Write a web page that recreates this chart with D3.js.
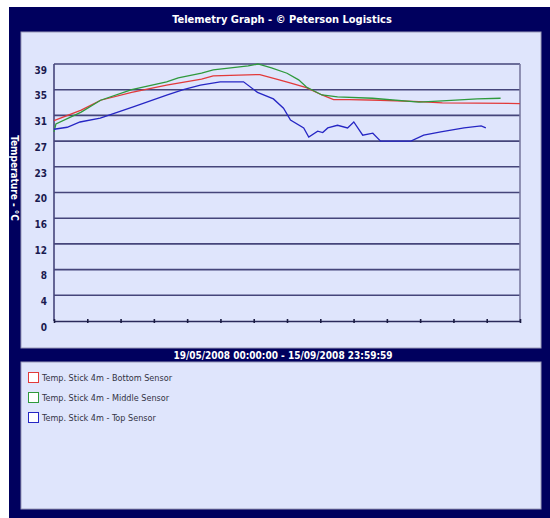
<!DOCTYPE html>
<html>
<head>
<meta charset="utf-8">
<script src="https://cdnjs.cloudflare.com/ajax/libs/d3/7.8.5/d3.min.js"></script>
<style>
  body { margin: 0; background: #ffffff; }
  text { font-family: "DejaVu Sans Condensed", "Liberation Sans", sans-serif; }
</style>
</head>
<body>
<div id="chart"></div>
<script>
// period shown on the graph
let startDate = new Date(2008, 4, 19, 0, 0, 0);
let endDate = new Date(2008, 8, 16, 0, 0, 0);

// y ticks: gridlines every 3.9 degC, labels rounded
let yTicks = [0, 3.9, 7.8, 11.7, 15.6, 19.5, 23.4, 27.3, 31.2, 35.1, 39];

// readings: day offset from start, temperature degC
let bottomDays = [0, 7, 12, 20, 29, 38, 41, 53, 58, 61, 65, 69, 72, 76, 84, 94, 100, 120];
let bottomTemps = [30.4, 32.0, 33.5, 34.7, 35.8, 36.7, 37.2, 37.4, 36.6, 36.1, 35.4, 34.3, 33.6, 33.6, 33.5, 33.3, 33.1, 33.0];

let middleDays = [0, 0.5, 7, 12, 20, 29, 32, 38, 41, 50, 52.5, 56, 60, 63, 65, 69, 73, 82, 94, 100, 109, 115];
let middleTemps = [28.7, 29.9, 31.7, 33.5, 35.1, 36.3, 36.9, 37.6, 38.1, 38.7, 39.0, 38.4, 37.6, 36.6, 35.5, 34.3, 34.0, 33.8, 33.2, 33.4, 33.7, 33.8];

let topDays = [0, 3.4, 6.7, 11.9, 20.4, 29.2, 33.3, 37.7, 42.8, 48.8, 52.4, 56.5, 59.1, 60.9, 64.3, 65.6, 67.9, 69.2, 70.5, 73.0, 75.6, 77.2, 79.5, 82.1, 84.1, 88.5, 91.9, 95.2, 99.6, 105.6, 110.0, 111.2];
let topTemps = [29.1, 29.4, 30.2, 30.8, 32.5, 34.3, 35.1, 35.8, 36.3, 36.3, 34.7, 33.7, 32.3, 30.5, 29.3, 27.9, 28.8, 28.6, 29.3, 29.7, 29.3, 30.2, 28.2, 28.5, 27.3, 27.3, 27.3, 28.2, 28.7, 29.3, 29.6, 29.3];

let seriesNames = ["Temp. Stick 4m - Bottom Sensor", "Temp. Stick 4m - Middle Sensor", "Temp. Stick 4m - Top Sensor"];
let seriesColors = ["#e23a3a", "#2f9a3c", "#2626c4"];

let dayMs = 24 * 3600 * 1000;
function toPoints(days, temps) {
  return days.map(function(d, i) {
    return { date: new Date(startDate.getTime() + d * dayMs), temp: temps[i] };
  });
}
let series = [
  toPoints(bottomDays, bottomTemps),
  toPoints(middleDays, middleTemps),
  toPoints(topDays, topTemps)
];

let width = 550, height = 518;
let navy = "#00005e";
let panel = "#dfe5fc";
let grid = "#45457a";

let svg = d3.select("#chart")
    .append("svg")
    .attr("width", width)
    .attr("height", height);

// outer frame
svg.append("rect")
    .attr("x", 9).attr("y", 7)
    .attr("width", width - 9).attr("height", height - 7)
    .attr("fill", navy);

// panels
svg.append("rect")
    .attr("x", 21).attr("y", 32)
    .attr("width", 520).attr("height", 316)
    .attr("fill", panel)
    .attr("stroke", "#9a9ab8").attr("stroke-width", 1);

svg.append("rect")
    .attr("x", 21).attr("y", 362)
    .attr("width", 520).attr("height", 147)
    .attr("fill", panel)
    .attr("stroke", "#9a9ab8").attr("stroke-width", 1);

svg.append("text")
    .attr("x", 282).attr("y", 23)
    .attr("text-anchor", "middle")
    .attr("fill", "white")
    .attr("font-size", 11)
    .attr("font-weight", "bold")
    .text("Telemetry Graph - \u00A9 Peterson Logistics");

svg.append("text")
    .attr("x", 283).attr("y", 359)
    .attr("text-anchor", "middle")
    .attr("fill", "white")
    .attr("font-size", 10)
    .attr("font-weight", "bold")
    .text("19/05/2008 00:00:00 - 15/09/2008 23:59:59");

svg.append("text")
    .attr("transform", "translate(11,178) rotate(90)")
    .attr("text-anchor", "middle")
    .attr("fill", "white")
    .attr("font-size", 10)
    .attr("font-weight", "bold")
    .text("Temperature - \u00B0C");

// plot area
let plotLeft = 54, plotRight = 520, plotTop = 64, plotBottom = 321;

let x = d3.scaleTime()
    .domain([startDate, endDate])
    .range([plotLeft, plotRight]);

let y = d3.scaleLinear()
    .domain([0, 39])
    .range([plotBottom, plotTop]);

let plot = svg.append("g");

plot.selectAll(".grid")
    .data(yTicks.slice(1))
    .enter()
    .append("line")
    .attr("x1", plotLeft).attr("x2", plotRight)
    .attr("y1", function(d) { return y(d); })
    .attr("y2", function(d) { return y(d); })
    .attr("stroke", grid)
    .attr("stroke-width", 1.6);

// y axis labels
let yAxis = d3.axisLeft(y)
    .tickValues(yTicks)
    .tickSize(0)
    .tickPadding(7)
    .tickFormat(function(d) { return Math.round(d); });

let yg = plot.append("g")
    .attr("transform", "translate(" + plotLeft + ",6)")
    .call(yAxis);
yg.select(".domain").remove();
yg.selectAll("text")
    .attr("fill", "#1a1a50")
    .attr("font-size", 10)
    .attr("font-weight", "bold")
    .style("font-family", "'DejaVu Sans Condensed', sans-serif");

// frame lines
plot.append("line")
    .attr("x1", plotLeft).attr("x2", plotLeft)
    .attr("y1", plotTop).attr("y2", plotBottom)
    .attr("stroke", grid).attr("stroke-width", 1.6);
plot.append("line")
    .attr("x1", plotRight).attr("x2", plotRight)
    .attr("y1", plotTop).attr("y2", plotBottom)
    .attr("stroke", "#7a7aa0").attr("stroke-width", 1.6);

// x axis with small ticks
let xTickValues = d3.range(15).map(function(i) {
  return new Date(startDate.getTime() + i * (endDate - startDate) / 14);
});
let xAxis = d3.axisBottom(x)
    .tickValues(xTickValues)
    .tickSizeInner(2)
    .tickSizeOuter(0)
    .tickFormat("");

let xg = plot.append("g")
    .attr("transform", "translate(0," + plotBottom + ")")
    .call(xAxis);
xg.select(".domain").attr("stroke", "#2a2a5a").attr("stroke-width", 1.6);
xg.selectAll(".tick line")
    .attr("y1", -2)
    .attr("stroke", "#1a1a40")
    .attr("stroke-width", 1.6);

// series
let line = d3.line()
    .x(function(d) { return x(d.date); })
    .y(function(d) { return y(d.temp); });

plot.selectAll(".series")
    .data(series)
    .enter()
    .append("path")
    .attr("class", "series")
    .attr("d", line)
    .attr("fill", "none")
    .attr("stroke", function(d, i) { return seriesColors[i]; })
    .attr("stroke-width", 1.3);

// legend
let legend = svg.selectAll(".legend")
    .data(seriesNames)
    .enter()
    .append("g")
    .attr("class", "legend")
    .attr("transform", function(d, i) {
      return "translate(28," + (372 + i * 20) + ")";
    });

legend.append("rect")
    .attr("x", 0.5).attr("y", 0.5)
    .attr("width", 10).attr("height", 10)
    .attr("fill", "white")
    .attr("stroke", function(d, i) { return seriesColors[i]; })
    .attr("stroke-width", 1);

legend.append("text")
    .attr("x", 14).attr("y", 9)
    .attr("fill", "#333344")
    .attr("font-size", 9)
    .text(function(d) { return d; });
</script>
</body>
</html>
